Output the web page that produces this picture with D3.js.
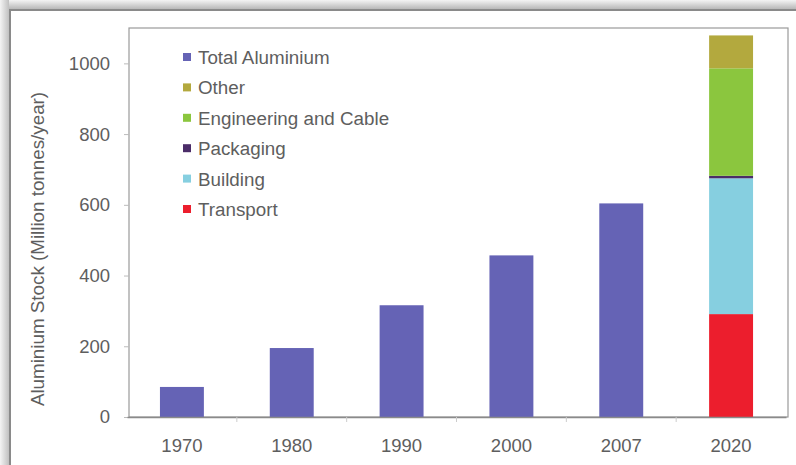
<!DOCTYPE html>
<html>
<head>
<meta charset="utf-8">
<script src="https://d3js.org/d3.v7.min.js"></script>
<style>
  body { margin: 0; background: #fff; }
  text { font-family: "Liberation Sans", Arial, sans-serif; }
</style>
</head>
<body>
<div class="chart"></div>
<script>
// data
var years = ["1970", "1980", "1990", "2000", "2007", "2020"]
var totalAl = [85, 195, 316, 457, 604, 0]
var transport = [0, 0, 0, 0, 0, 291]
var building = [0, 0, 0, 0, 0, 384]
var packaging = [0, 0, 0, 0, 0, 7]
var engineering = [0, 0, 0, 0, 0, 304]
var other = [0, 0, 0, 0, 0, 93]
var yTicks = [0, 200, 400, 600, 800, 1000]

var legendNames = ["Total Aluminium", "Other", "Engineering and Cable", "Packaging", "Building", "Transport"]
var legendColors = ["#6563b5", "#b3a93e", "#8bc63e", "#4b2c68", "#86cfe0", "#ec1e2d"]

var keys = ["total", "transport", "building", "packaging", "engineering", "other"]
var colorOf = {
  total: "#6563b5", transport: "#ec1e2d", building: "#86cfe0",
  packaging: "#4b2c68", engineering: "#8bc63e", other: "#b3a93e"
}

var rows = years.map(function (y, i) {
  return {
    year: y, total: totalAl[i], transport: transport[i], building: building[i],
    packaging: packaging[i], engineering: engineering[i], other: other[i]
  }
})

var W = 796, H = 465
var svg = d3.select(".chart").append("svg")
  .attr("width", W)
  .attr("height", H)

// scanned page frame: grey shading along top and left edge
var defs = svg.append("defs")
var gTop = defs.append("linearGradient").attr("id", "shTop")
  .attr("x1", 0).attr("y1", 0).attr("x2", 0).attr("y2", 1)
gTop.append("stop").attr("offset", "0%").attr("stop-color", "#f4f4f4")
gTop.append("stop").attr("offset", "100%").attr("stop-color", "#b8b8b8")
var gLeft = defs.append("linearGradient").attr("id", "shLeft")
  .attr("x1", 0).attr("y1", 0).attr("x2", 1).attr("y2", 0)
gLeft.append("stop").attr("offset", "0%").attr("stop-color", "#f4f4f4")
gLeft.append("stop").attr("offset", "100%").attr("stop-color", "#c0c0c0")

svg.append("rect").attr("x", 0).attr("y", 0).attr("width", W).attr("height", 9)
  .style("fill", "url(#shTop)")
svg.append("rect").attr("x", 0).attr("y", 0).attr("width", 9).attr("height", H)
  .style("fill", "url(#shLeft)")
svg.append("line").attr("x1", 9).attr("x2", W).attr("y1", 10).attr("y2", 10)
  .style("stroke", "#8a8a8a").style("stroke-width", 2)
svg.append("line").attr("x1", 10).attr("x2", 10).attr("y1", 9).attr("y2", H)
  .style("stroke", "#8a8a8a").style("stroke-width", 2)

var plot = { left: 129, right: 788, top: 28, bottom: 417 }

var x = d3.scaleBand()
  .domain(years)
  .range([plot.left - 2, plot.right - 2])
  .paddingInner(0.6)
  .paddingOuter(0.3)

var y = d3.scaleLinear()
  .domain([0, 1100])
  .range([plot.bottom, plot.top])

// plot box
svg.append("rect")
  .attr("x", plot.left).attr("y", plot.top)
  .attr("width", plot.right - plot.left).attr("height", plot.bottom - plot.top)
  .style("fill", "none").style("stroke", "#9a9a9a").style("stroke-width", 1.2)

// bars
var stacked = d3.stack().keys(keys)(rows)
svg.append("g").selectAll("g")
  .data(stacked)
  .join("g")
  .style("fill", function (d) { return colorOf[d.key] })
  .selectAll("rect")
  .data(function (d) { return d })
  .join("rect")
  .attr("x", function (d) { return x(d.data.year) })
  .attr("width", x.bandwidth())
  .attr("y", function (d) { return y(d[1]) })
  .attr("height", function (d) { return y(d[0]) - y(d[1]) })

// y axis
var yAxis = svg.append("g")
  .attr("transform", "translate(" + plot.left + ",0)")
  .call(d3.axisLeft(y).tickValues(yTicks).tickFormat(d3.format("d")).tickSize(5).tickPadding(14))
yAxis.select(".domain").remove()
yAxis.selectAll("line").style("stroke", "#bbb")
yAxis.selectAll("text")
  .style("font-size", "18.5px")
  .style("fill", "#5e5e5e")

// x axis
var xAxis = svg.append("g")
  .attr("transform", "translate(0," + plot.bottom + ")")
  .call(d3.axisBottom(x).tickSize(0).tickPadding(22))
xAxis.select(".domain").style("stroke", "#8a8a8a").style("stroke-width", 1.5)
xAxis.selectAll("text")
  .style("font-size", "18.5px")
  .style("fill", "#5e5e5e")

// small ticks between categories
var bounds = years.slice(1).map(function (yr) {
  return x(yr) - x.step() * x.paddingInner() / 2
})
svg.append("g").selectAll("line")
  .data(bounds)
  .join("line")
  .attr("x1", function (d) { return d }).attr("x2", function (d) { return d })
  .attr("y1", plot.bottom).attr("y2", plot.bottom + 5)
  .style("stroke", "#ccc")

// y title
svg.append("text")
  .attr("transform", "translate(44,249) rotate(-90)")
  .attr("text-anchor", "middle")
  .style("font-size", "18.8px")
  .style("fill", "#5e5e5e")
  .text("Aluminium Stock (Million tonnes/year)")

// legend
var legend = svg.append("g").selectAll("g")
  .data(legendNames)
  .join("g")
  .attr("transform", function (d, i) { return "translate(183," + (57 + i * 30.4) + ")" })
legend.append("rect")
  .attr("x", 0).attr("y", -4).attr("width", 8).attr("height", 8)
  .style("fill", function (d, i) { return legendColors[i] })
legend.append("text")
  .attr("x", 15).attr("y", 7)
  .style("font-size", "18.8px")
  .style("fill", "#5e5e5e")
  .text(function (d) { return d })
</script>
</body>
</html>
